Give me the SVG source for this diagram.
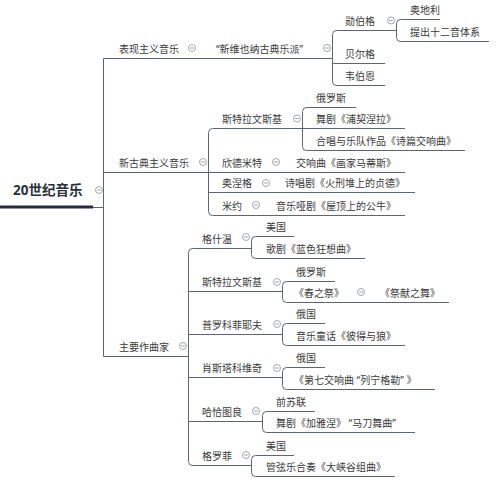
<svg xmlns="http://www.w3.org/2000/svg" width="498" height="485" viewBox="0 0 498 485">
<style>
text{font-family:"Noto Sans","Noto Sans CJK SC",sans-serif;font-size:10px;fill:#3a3a3a}
.root{font-size:13.5px;font-weight:bold;fill:#2b2f3a}
.ln{fill:none;stroke:#5d6474;stroke-width:1}
.tog circle{fill:#fff;stroke:#8a8f99;stroke-width:0.8}
.tog line{stroke:#8a8f99;stroke-width:0.8}
</style>
<defs>
<g id="tg" class="tog"><circle r="3.5"/><line x1="-2" y1="0" x2="2" y2="0"/></g>
</defs>
<rect width="498" height="485" fill="#fff"/>
<g id="connectors">
<line x1="0" y1="207" x2="93" y2="207" stroke="#262d42" stroke-width="3"/>
<path class="ln" d="M93 207.5H103.5M103.5 58.5V356.5M103.5 58.5H332.5M103.5 172.5H208.5M103.5 356.5H188.5"/>
<path class="ln" d="M336.5 30.5Q332.5 30.5 332.5 34.5V81.5Q332.5 85.5 336.5 85.5M336.5 30.5H396.5M332.5 63.5H385M336.5 85.5H385"/>
<path class="ln" d="M400.5 19.5Q396.5 19.5 396.5 23.5V37.5Q396.5 41.5 400.5 41.5M400.5 19.5H440M400.5 41.5H489"/>
<path class="ln" d="M212.5 128.5Q208.5 128.5 208.5 132.5V211.5Q208.5 215.5 212.5 215.5M212.5 128.5H405M208.5 172.5H405M208.5 192.5H415M212.5 215.5H405"/>
<path class="ln" d="M306.5 107.5Q302.5 107.5 302.5 111.5V146.5Q302.5 150.5 306.5 150.5M306.5 107.5H356M306.5 150.5H465"/>
<path class="ln" d="M192.5 248.5Q188.5 248.5 188.5 252.5V461.5Q188.5 465.5 192.5 465.5M192.5 248.5H251.5M188.5 291.5H282.5M188.5 334.5H282.5M188.5 377.5H282.5M188.5 421.5H262.5M192.5 465.5H251.5"/>
<path class="ln" d="M255.5 236.5Q251.5 236.5 251.5 240.5V254.5Q251.5 258.5 255.5 258.5M255.5 236.5H294M255.5 258.5H365"/>
<path class="ln" d="M286.5 281.5Q282.5 281.5 282.5 285.5V298.5Q282.5 302.5 286.5 302.5M286.5 281.5H335M286.5 302.5H449"/>
<path class="ln" d="M286.5 323.5Q282.5 323.5 282.5 327.5V341.5Q282.5 345.5 286.5 345.5M286.5 323.5H325M286.5 345.5H405"/>
<path class="ln" d="M286.5 367.5Q282.5 367.5 282.5 371.5V385.5Q282.5 389.5 286.5 389.5M286.5 367.5H325M286.5 389.5H435"/>
<path class="ln" d="M266.5 411.5Q262.5 411.5 262.5 415.5V428.5Q262.5 432.5 266.5 432.5M266.5 411.5H315M266.5 432.5H415"/>
<path class="ln" d="M255.5 455.5Q251.5 455.5 251.5 459.5V472.5Q251.5 476.5 255.5 476.5M255.5 455.5H294M255.5 476.5H395"/>
</g>
<g id="root"><text class="root" x="13" y="195">20世纪音乐</text><use href="#tg" x="99" y="190"/></g>
<g id="n1"><text x="119" y="52.5">表现主义音乐</text><use href="#tg" x="192" y="48"/></g>
<g id="n1a"><text x="216" y="52.5">“新维也纳古典乐派”</text><use href="#tg" x="327" y="48"/></g>
<g id="n1a1"><text x="345" y="24.5">勋伯格</text><use href="#tg" x="391" y="20.5"/></g>
<g id="n1a1a"><text x="410" y="14">奥地利</text></g>
<g id="n1a1b"><text x="410" y="35.5">提出十二音体系</text></g>
<g id="n1a2"><text x="345" y="57.5">贝尔格</text></g>
<g id="n1a3"><text x="345" y="79.5">韦伯恩</text></g>
<g id="n2"><text x="119" y="166.5">新古典主义音乐</text><use href="#tg" x="203" y="162"/></g>
<g id="n2a"><text x="222" y="122.5">斯特拉文斯基</text><use href="#tg" x="297" y="118.5"/></g>
<g id="n2a1"><text x="316" y="101.5">俄罗斯</text></g>
<g id="n2a2"><text x="316" y="122.5">舞剧《浦契涅拉》</text></g>
<g id="n2a3"><text x="316" y="144.5">合唱与乐队作品《诗篇交响曲》</text></g>
<g id="n2b"><text x="222" y="166.5">欣德米特</text><use href="#tg" x="276" y="162"/></g>
<g id="n2b1"><text x="296" y="166.5">交响曲《画家马蒂斯》</text></g>
<g id="n2c"><text x="222" y="186.5">奥涅格</text><use href="#tg" x="266" y="183"/></g>
<g id="n2c1"><text x="285" y="186.5">诗唱剧《火刑堆上的贞德》</text></g>
<g id="n2d"><text x="222" y="209.5">米约</text><use href="#tg" x="256" y="205"/></g>
<g id="n2d1"><text x="276" y="209.5">音乐哑剧《屋顶上的公牛》</text></g>
<g id="n3"><text x="119" y="350.5">主要作曲家</text><use href="#tg" x="183" y="346"/></g>
<g id="n3a"><text x="202" y="242.5">格什温</text><use href="#tg" x="246" y="237"/></g>
<g id="n3a1"><text x="266" y="230.5">美国</text></g>
<g id="n3a2"><text x="266" y="252.5">歌剧《蓝色狂想曲》</text></g>
<g id="n3b"><text x="202" y="285.5">斯特拉文斯基</text><use href="#tg" x="277" y="282"/></g>
<g id="n3b1"><text x="296" y="275.5">俄罗斯</text></g>
<g id="n3b2"><text x="294" y="296.5">《春之祭》</text><use href="#tg" x="361" y="292"/></g>
<g id="n3b2a"><text x="380" y="296.5">《祭献之舞》</text></g>
<g id="n3c"><text x="202" y="328.5">普罗科菲耶夫</text><use href="#tg" x="277" y="324"/></g>
<g id="n3c1"><text x="296" y="317.5">俄国</text></g>
<g id="n3c2"><text x="296" y="339.5">音乐童话《彼得与狼》</text></g>
<g id="n3d"><text x="202" y="371.5">肖斯塔科维奇</text><use href="#tg" x="277" y="368"/></g>
<g id="n3d1"><text x="296" y="361.5">俄国</text></g>
<g id="n3d2"><text x="294" y="383.5" xml:space="preserve">《第七交响曲 “列宁格勒” 》</text></g>
<g id="n3e"><text x="202" y="415.5">哈恰图良</text><use href="#tg" x="256" y="411"/></g>
<g id="n3e1"><text x="276" y="405.5">前苏联</text></g>
<g id="n3e2"><text x="276" y="426.5" xml:space="preserve">舞剧《加雅涅》 “马刀舞曲”</text></g>
<g id="n3f"><text x="202" y="459.5">格罗菲</text><use href="#tg" x="246" y="455"/></g>
<g id="n3f1"><text x="266" y="449.5">美国</text></g>
<g id="n3f2"><text x="266" y="470.5">管弦乐合奏《大峡谷组曲》</text></g>
</svg>
